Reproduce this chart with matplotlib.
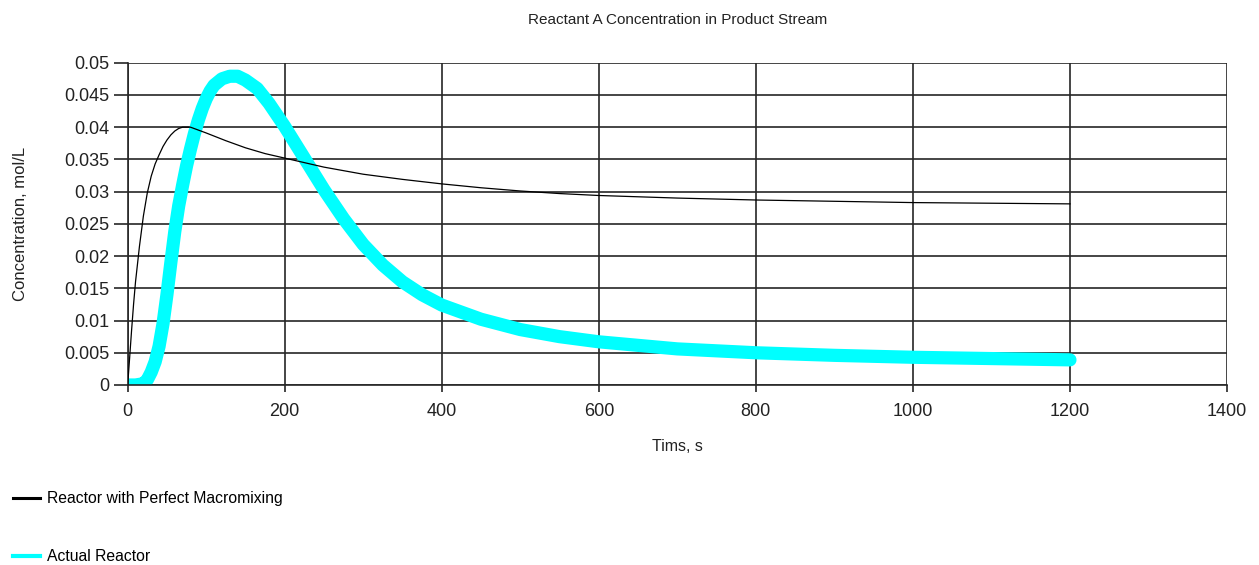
import matplotlib
matplotlib.use("Agg")
import matplotlib.pyplot as plt
from matplotlib.lines import Line2D

# Reactor with Perfect Macromixing
t_ideal = [0, 2.5, 5, 7.5, 10, 15, 20, 25, 30, 35, 40, 45, 50, 55, 60, 65, 70, 80,
           100, 125, 150, 175, 200, 250, 300, 350, 400, 450, 500, 550, 600, 700,
           800, 900, 1000, 1100, 1200]
c_ideal = [0.0, 0.0042, 0.0085, 0.0125, 0.0160, 0.0215, 0.0262, 0.0298, 0.0324,
           0.0343, 0.0357, 0.0370, 0.0380, 0.0388, 0.0394, 0.0398, 0.0400, 0.0400,
           0.0391, 0.0379, 0.0368, 0.0359, 0.0352, 0.0338, 0.0327, 0.0319, 0.0312,
           0.0306, 0.0301, 0.0297, 0.0294, 0.0290, 0.0287, 0.0285, 0.0283, 0.0282,
           0.0281]

# Actual Reactor
t_actual = [0, 10, 20, 25, 30, 35, 40, 45, 50, 55, 60, 65, 70, 75, 80, 85, 90, 95,
            100, 105, 110, 120, 130, 140, 150, 165, 180, 200, 225, 250, 275, 300,
            325, 350, 375, 400, 450, 500, 550, 600, 700, 800, 900, 1000, 1100, 1200]
c_actual = [0.0, 0.0, 0.0002, 0.0008, 0.0020, 0.0036, 0.0060, 0.0095, 0.0140,
            0.0190, 0.0238, 0.0278, 0.0310, 0.0340, 0.0366, 0.0390, 0.0411, 0.0429,
            0.0444, 0.0456, 0.0465, 0.0475, 0.0479, 0.0479, 0.0473, 0.0460, 0.0437,
            0.0401, 0.0352, 0.0303, 0.0258, 0.0218, 0.0186, 0.0160, 0.0140, 0.0124,
            0.0102, 0.0086, 0.0075, 0.0067, 0.0056, 0.0050, 0.0046, 0.0043, 0.0041,
            0.0039]

x_ticks = [0, 200, 400, 600, 800, 1000, 1200, 1400]
y_ticks = [0, 0.005, 0.01, 0.015, 0.02, 0.025, 0.03, 0.035, 0.04, 0.045, 0.05]
y_tick_labels = ["0", "0.005", "0.01", "0.015", "0.02", "0.025", "0.03",
                 "0.035", "0.04", "0.045", "0.05"]

plt.rcParams["font.family"] = ["Liberation Sans", "DejaVu Sans"]

fig = plt.figure(figsize=(12.59, 5.65), dpi=100)
ax = fig.add_axes([0.1014, 0.3186, 0.8732, 0.5704])

grid_col = "#262626"
txt_col = "#222222"
ax.plot(t_ideal, c_ideal, color="black", lw=0.9, zorder=3)
ax.plot(t_actual, c_actual, color="#00ffff", lw=9.5, solid_capstyle="round",
        solid_joinstyle="round", zorder=2)

ax.set_xlim(0, 1400)
ax.set_ylim(0, 0.05)
ax.set_xticks(x_ticks)
ax.set_yticks(y_ticks)
ax.set_yticklabels(y_tick_labels)
ax.grid(True, color=grid_col, lw=1.2)
ax.set_axisbelow(True)
for side in ("top", "right"):
    ax.spines[side].set_visible(False)
for side in ("left", "bottom"):
    ax.spines[side].set_color(grid_col)
    ax.spines[side].set_linewidth(1.2)
ax.tick_params(axis="y", length=10, width=1.2, color=grid_col, pad=3, labelsize=13, labelcolor=txt_col)
ax.tick_params(axis="x", length=5, width=1.2, color=grid_col, pad=8, labelsize=13, labelcolor=txt_col)

ax.set_title("Reactant A Concentration in Product Stream", fontsize=11, pad=28, color=txt_col)
ax.set_xlabel("Tims, s", fontsize=11.5, labelpad=14, color=txt_col)
ax.set_ylabel("Concentration, mol/L", fontsize=12, color=txt_col)
ax.yaxis.set_label_coords(-0.091, 0.5)

handles = [Line2D([], [], color="black", lw=2.2),
           Line2D([], [], color="#00ffff", lw=3.0)]
labels = ["Reactor with Perfect Macromixing", "Actual Reactor"]
fig.legend(handles, labels, loc="upper left", bbox_to_anchor=(0.005, 0.142),
           bbox_transform=fig.transFigure, frameon=False, fontsize=11.3,
           handlelength=1.75, handletextpad=0.45, labelspacing=2.75, borderaxespad=0.0)

fig.savefig("out.png", dpi=100)
